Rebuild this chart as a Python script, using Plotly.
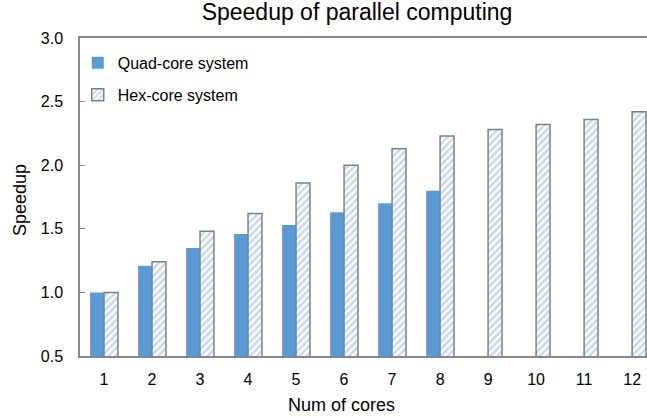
import plotly.graph_objects as go

cores = [1, 2, 3, 4, 5, 6, 7, 8, 9, 10, 11, 12]
quad_cores = [1, 2, 3, 4, 5, 6, 7, 8]
quad_speedup = [1.00, 1.21, 1.35, 1.46, 1.53, 1.63, 1.70, 1.80]
hex_speedup = [1.00, 1.24, 1.48, 1.62, 1.86, 2.00, 2.13, 2.23, 2.28, 2.32, 2.36, 2.42]
y_ticks = [0.5, 1.0, 1.5, 2.0, 2.5, 3.0]

FONT = "Arial, Liberation Sans, sans-serif"

fig = go.Figure()
fig.add_trace(go.Bar(
    x=[str(c) for c in quad_cores], y=quad_speedup, name="Quad-core system",
    marker=dict(color="#5B9BD5", line=dict(width=0)),
    legendgroup="q",
))
fig.add_trace(go.Bar(
    x=[str(c) for c in cores], y=hex_speedup, name="Hex-core system",
    marker=dict(color="white", line=dict(color="#808080", width=1.5),
                pattern=dict(shape="/", fgcolor="#8DB4E2", bgcolor="white",
                             size=5, solidity=0.5)),
    legendgroup="h",
))

fig.update_layout(
    width=647, height=417,
    margin=dict(l=80, r=0, t=38, b=61, autoexpand=False),
    paper_bgcolor="white", plot_bgcolor="white",
    font=dict(family=FONT, size=16, color="#000000"),
    title=dict(text="Speedup of parallel computing", x=357 / 647, xanchor="center",
               y=1 - 12 / 417, yanchor="middle", font=dict(size=23, family=FONT)),
    barmode="group", bargap=0.42, bargroupgap=0,
    showlegend=True,
    legend=dict(x=-0.004, y=0.975, xanchor="left", yanchor="top",
                bgcolor="rgba(0,0,0,0)", font=dict(size=16, family=FONT),
                traceorder="grouped", tracegroupgap=8, itemwidth=30),
    xaxis=dict(
        type="category", categoryorder="array", categoryarray=[str(c) for c in cores],
        range=[-0.5, 11.31], automargin=False,
        showline=True, linecolor="#888888", linewidth=1.5, mirror=True,
        ticks="", showgrid=False, zeroline=False,
        ticklabelstandoff=8,
        tickfont=dict(size=16),
    ),
    yaxis=dict(
        range=[0.5, 3.0], tickvals=y_ticks, ticktext=[f"{v:.1f}" for v in y_ticks],
        automargin=False,
        showline=True, linecolor="#888888", linewidth=1.5,
        ticks="inside", ticklen=5, tickcolor="#888888",
        showgrid=False, zeroline=False,
        ticklabelstandoff=12,
        tickfont=dict(size=16),
    ),
    annotations=[
        dict(text="Num of cores", xref="paper", yref="paper",
             x=(341 - 80) / 567, y=-(405 - 356) / 318, xanchor="center", yanchor="middle",
             showarrow=False, font=dict(size=18, family=FONT)),
        dict(text="Speedup", xref="paper", yref="paper",
             x=-(80 - 20) / 567, y=(356 - 200) / 318, xanchor="center", yanchor="middle",
             textangle=-90, showarrow=False, font=dict(size=18, family=FONT)),
    ],
)

fig.write_html("out.html", config={"displayModeBar": False},
               post_script="document.body.style.margin='0';")
